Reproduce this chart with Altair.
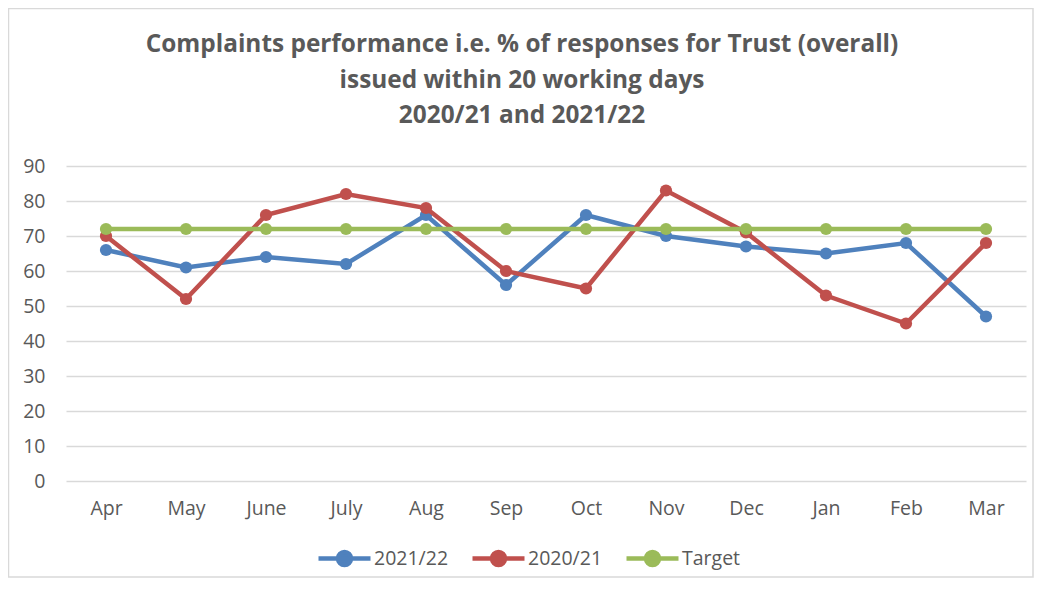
import altair as alt
import pandas as pd

months = ["Apr", "May", "June", "July", "Aug", "Sep", "Oct", "Nov", "Dec", "Jan", "Feb", "Mar"]
s_2122 = [66, 61, 64, 62, 76, 56, 76, 70, 67, 65, 68, 47]
s_2021 = [70, 52, 76, 82, 78, 60, 55, 83, 71, 53, 45, 68]
target = [72] * 12
series_names = ["2021/22", "2020/21", "Target"]
series_colors = ["#4F81BD", "#C0504D", "#9BBB59"]
y_ticks = [0, 10, 20, 30, 40, 50, 60, 70, 80, 90]
title_lines = [
    "Complaints performance i.e. % of responses for Trust (overall)",
    "issued within 20 working days",
    "2020/21 and 2021/22",
]

rows = []
for name, vals in zip(series_names, [s_2122, s_2021, target]):
    for m, v in zip(months, vals):
        rows.append({"month": m, "value": v, "series": name})
df = pd.DataFrame(rows)

FONT = "Open Sans"
GREY = "#595959"
W, H = 960, 315
PL, PT, PR, PB = 58, 158, 8, 97

color = alt.Color(
    "series:N",
    scale=alt.Scale(domain=series_names, range=series_colors),
    legend=alt.Legend(
        title=None,
        orient="none",
        direction="horizontal",
        legendX=250,
        legendY=364,
        symbolType="M-1,0L1,0M0.25,0A0.25,0.25,0,1,1,-0.25,0A0.25,0.25,0,1,1,0.25,0Z",
        symbolSize=2704,
        symbolStrokeWidth=4.5,
        labelFontSize=19.5,
        labelFont=FONT,
        labelColor=GREY,
        labelOffset=1,
        columnPadding=14,
        padding=0,
    ),
)

x = alt.X(
    "month:N",
    sort=months,
    scale=alt.Scale(type="point", padding=0.5),
    axis=alt.Axis(
        title=None,
        domain=False,
        ticks=False,
        grid=False,
        labelFontSize=19.5,
        labelFont=FONT,
        labelColor=GREY,
        labelPadding=18,
        labelAngle=0,
    ),
)
y = alt.Y(
    "value:Q",
    scale=alt.Scale(domain=[0, 90], nice=False),
    axis=alt.Axis(
        title=None,
        values=y_ticks,
        domain=False,
        ticks=False,
        grid=True,
        gridColor="#D9D9D9",
        gridWidth=1.5,
        labelFontSize=19.5,
        labelFont=FONT,
        labelColor=GREY,
        labelPadding=21,
    ),
)

frame = alt.Chart(pd.DataFrame({"f": [0]})).mark_rect(
    fill="transparent", stroke="#D9D9D9", strokeWidth=1.5
).encode(
    x=alt.value(-PL + 0.5),
    x2=alt.value(W + PR - 1),
    y=alt.value(-PT + 0.5),
    y2=alt.value(H + PB - 1),
)

layers = [frame]
for name in series_names:
    base = alt.Chart(df).transform_filter(alt.datum.series == name)
    layers.append(base.mark_line(strokeWidth=4.5).encode(x=x, y=y, color=color))
    layers.append(
        base.mark_point(filled=True, size=150, opacity=1).encode(x=x, y=y, color=color)
    )

chart = alt.layer(*layers).properties(
    width=W,
    height=H,
    padding={"left": PL, "top": PT, "right": PR, "bottom": PB},
    autosize=alt.AutoSizeParams(type="none"),
    title=alt.TitleParams(
        text=title_lines,
        font=FONT,
        fontSize=24.4,
        fontWeight="bold",
        color=GREY,
        lineHeight=35.5,
        anchor="middle",
        baseline="alphabetic",
        dx=-24,
        offset=-140,
    ),
).configure_view(stroke=None)

chart.save("out.html", embed_options={"renderer": "svg", "actions": False})
